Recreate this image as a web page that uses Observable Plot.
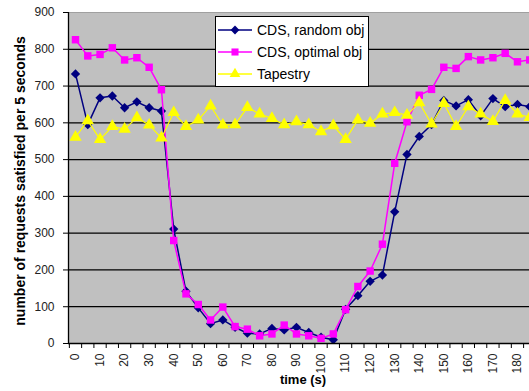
<!DOCTYPE html>
<html>
<head>
<meta charset="utf-8">
<script src="https://cdn.jsdelivr.net/npm/d3@7"></script>
<script src="https://cdn.jsdelivr.net/npm/@observablehq/plot@0.6"></script>
<style>
  html, body { margin: 0; padding: 0; background: #fff; }
  #wrap { position: relative; width: 529px; height: 391px; overflow: hidden; font-family: "Liberation Sans", Arial, sans-serif; }
  #legend { position: absolute; left: 215px; top: 16px; width: 154px; height: 71px; background: #fff; border: 1px solid #000; box-sizing: border-box; }
  .row { position: absolute; left: 0; height: 20px; display: flex; align-items: center; }
  .row svg { display: block; }
  .row span { font-size: 14px; color: #000; margin-left: 3px; white-space: nowrap; }
</style>
</head>
<body>
<div id="wrap"></div>
<script>
const time = [0,5,10,15,20,25,30,35,40,45,50,55,60,65,70,75,80,85,90,95,100,105,110,115,120,125,130,135,140,145,150,155,160,165,170,175,180,185];
const cdsRandom = [733,595,668,673,641,657,641,632,311,142,97,54,64,44,28,26,41,37,44,30,17,10,93,130,169,186,358,514,563,595,661,646,663,619,666,644,650,644];
const cdsOptimal = [826,782,786,804,771,777,751,690,280,135,106,64,99,46,39,21,26,50,26,21,14,26,92,155,197,270,490,603,675,691,751,748,780,771,777,789,766,771];
const tapestry = [561,606,555,590,583,614,594,559,628,590,608,646,594,595,642,624,612,595,603,595,576,592,555,608,599,624,628,621,655,597,653,590,644,624,604,661,624,615];
const seriesNames = ["CDS, random obj", "CDS, optimal obj", "Tapestry"];
const seriesColors = ["#000080", "#ff00ff", "#ffff00"];
const seriesSymbols = ["diamond2", "square", "triangle"];
const yTicks = [0,100,200,300,400,500,600,700,800,900];
const xLabels = [0,10,20,30,40,50,60,70,80,90,100,110,120,130,140,150,160,170,180];
const xTickMarks = [-2.5,2.5,7.5,12.5,17.5,22.5,27.5,32.5,37.5,42.5,47.5,52.5,57.5,62.5,67.5,72.5,77.5,82.5,87.5,92.5,97.5,102.5,107.5,112.5,117.5,122.5,127.5,132.5,137.5,142.5,147.5,152.5,157.5,162.5,167.5,172.5,177.5,182.5];

const allValues = [cdsRandom, cdsOptimal, tapestry];
const data = [];
allValues.forEach((vals, s) => vals.forEach((v, i) => data.push({t: time[i], v, s: seriesNames[s]})));

const lineMarks = [];
seriesNames.forEach((name, s) => {
  const d = data.filter(r => r.s === name);
  lineMarks.push(Plot.line(d, {x: "t", y: "v", stroke: seriesColors[s], strokeWidth: s === 2 ? 1.2 : 1.5, clip: true}));
  lineMarks.push(Plot.dot(d, {x: "t", y: "v", symbol: seriesSymbols[s], fill: seriesColors[s], stroke: "none", r: s === 2 ? 4.6 : 4.2, clip: true}));
});

const chart = Plot.plot({
  width: 529,
  height: 391,
  marginLeft: 68,
  marginRight: 0,
  marginTop: 12,
  marginBottom: 48,
  style: {fontFamily: "'Liberation Sans', Arial, sans-serif", fontSize: "12px", color: "#222", background: "#fff"},
  x: {type: "linear", domain: [-2.85, 184.9]},
  y: {domain: [0, 900]},
  marks: [
    Plot.frame({fill: "#c0c0c0", stroke: "#a0a0a0"}),
    Plot.ruleY(yTicks.filter(d => d > 0 && d < 900), {stroke: "#000", strokeWidth: 1.3}),
    ...lineMarks,
    Plot.ruleY([0], {stroke: "#000", strokeWidth: 1.3}),
    Plot.ruleX([-2.85], {stroke: "#000", strokeWidth: 1.3}),
    Plot.axisY({ticks: yTicks, tickSize: 5, tickPadding: 9, label: null, fontSize: 12, stroke: "#000"}),
    Plot.axisX({ticks: xTickMarks, tickSize: 5, tickFormat: () => "", label: null, stroke: "#000"}),
    Plot.axisX({ticks: xLabels, tickSize: 0, tickPadding: 10, tickRotate: -90, label: null, fontSize: 12}),
    Plot.text(["number of requests satisfied per 5 seconds"], {frameAnchor: "left", textAnchor: "middle", dx: -48, dy: 3, rotate: -90, fontWeight: "bold", fontSize: 14, fill: "#000"}),
    Plot.text(["time (s)"], {frameAnchor: "bottom", dy: 40, dx: 4, fontWeight: "bold", fontSize: 13, fill: "#000"})
  ]
});

const wrap = document.getElementById("wrap");
wrap.appendChild(chart);

// legend
const legend = document.createElement("div");
legend.id = "legend";
const rowTops = [3, 25, 47];
seriesNames.forEach((name, s) => {
  const row = document.createElement("div");
  row.className = "row";
  row.style.top = rowTops[s] + "px";
  const sw = d3.create("svg").attr("width", 38).attr("height", 20);
  sw.append("line").attr("x1", 2).attr("x2", 36).attr("y1", 10).attr("y2", 10)
    .attr("stroke", seriesColors[s]).attr("stroke-width", 1.5);
  const sym = {diamond2: d3.symbolDiamond2, square: d3.symbolSquare, triangle: d3.symbolTriangle}[seriesSymbols[s]];
  sw.append("path").attr("d", d3.symbol(sym, 50)()).attr("transform", "translate(19,10)")
    .attr("fill", seriesColors[s]);
  row.appendChild(sw.node());
  const label = document.createElement("span");
  label.textContent = name;
  row.appendChild(label);
  legend.appendChild(row);
});
wrap.appendChild(legend);
</script>
</body>
</html>
